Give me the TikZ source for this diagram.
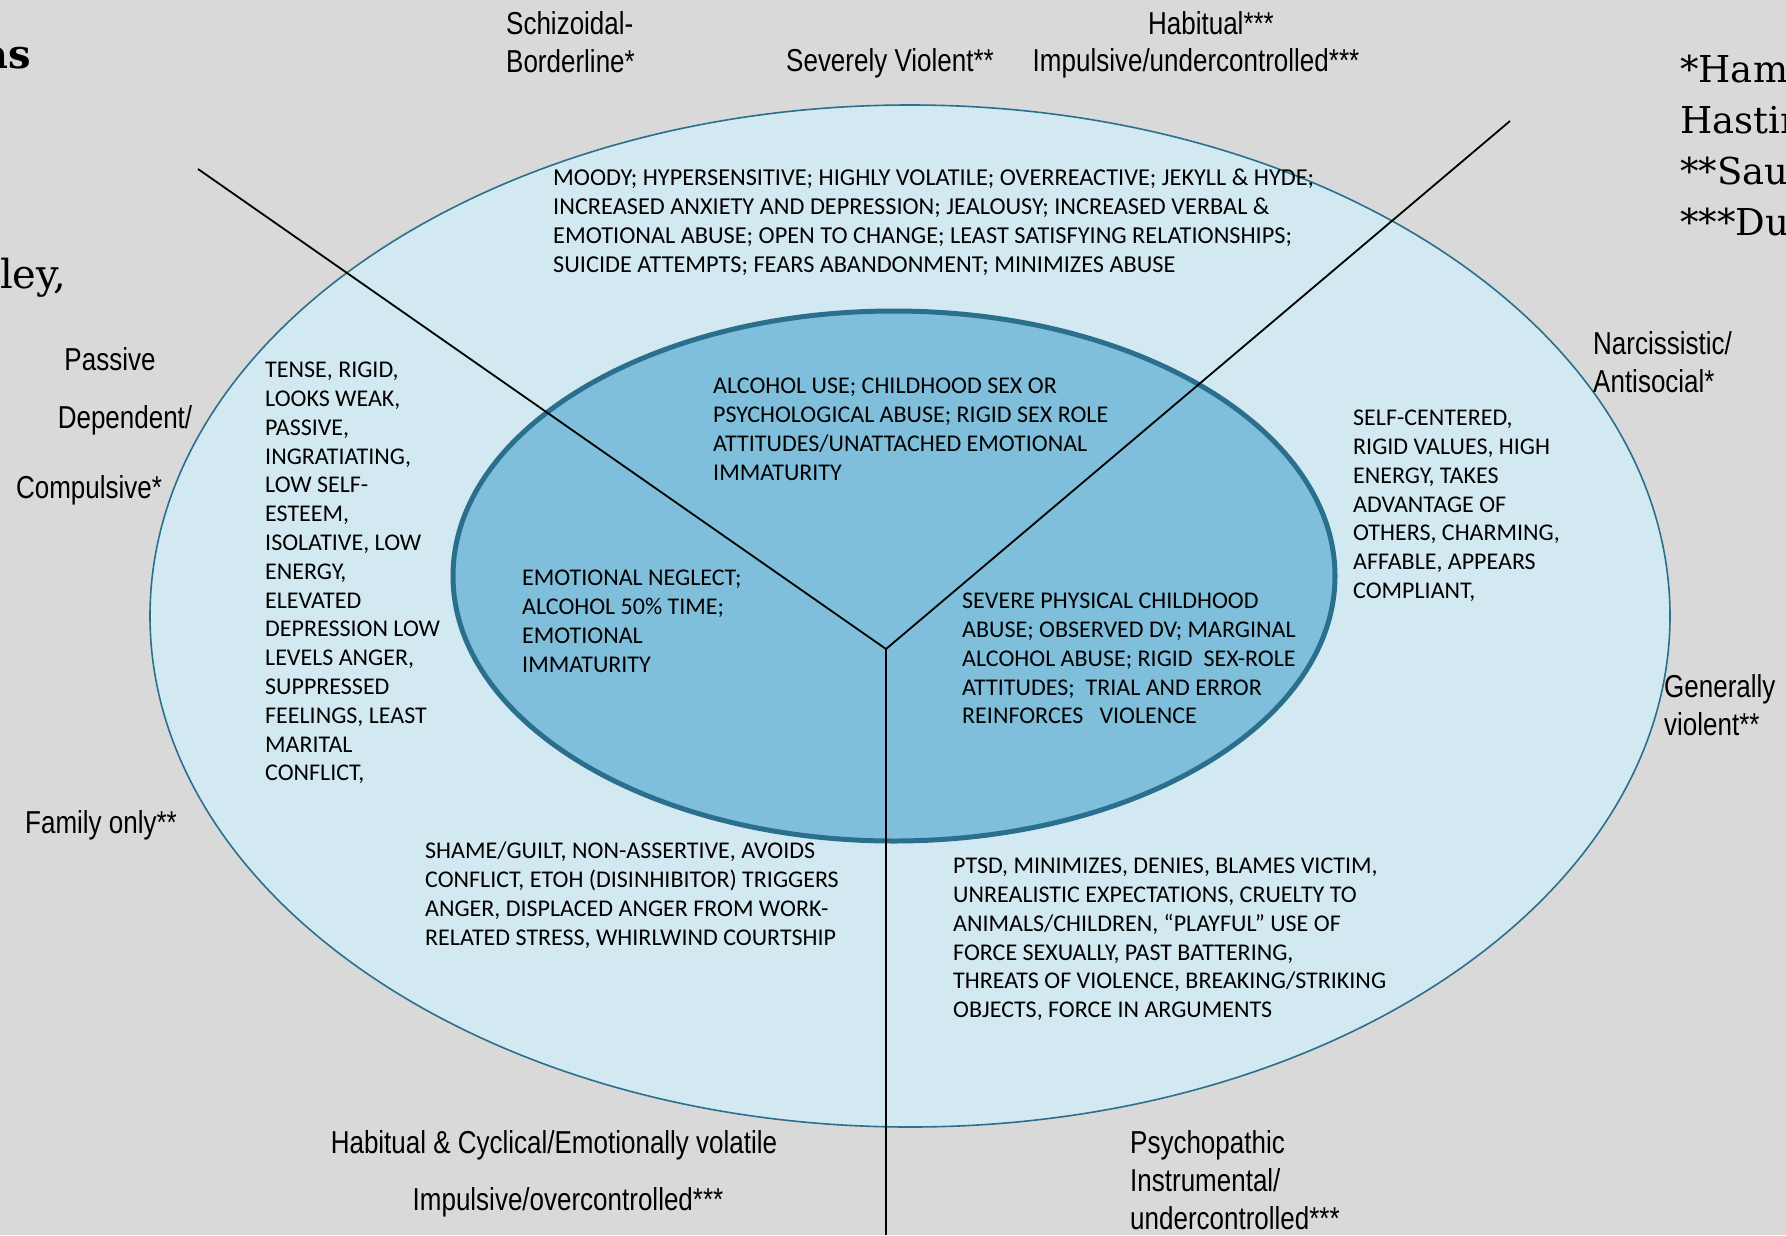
\documentclass[tikz,border=0pt]{standalone}
\usepackage{fontspec}
\setmainfont{Carlito}
\newfontfamily\labelfont[FakeStretch=0.82]{Liberation Sans}
\newfontfamily\headfont{DejaVu Serif}
\definecolor{bgcol}{HTML}{D9D9D9}
\definecolor{outerfill}{HTML}{D3E9F2}
\definecolor{innerfill}{HTML}{7FBFDB}
\definecolor{rimcol}{HTML}{2B6F8E}
\begin{document}
\begin{tikzpicture}[x=1pt,y=-1pt,
  body/.style={font=\fontsize{24}{28.8}\selectfont, align=left, inner sep=0pt, anchor=north west},
  lab/.style={font=\labelfont\fontsize{31.7}{38}\selectfont, inner sep=0pt},
  divider/.style={draw=black, line width=1.8pt},
  head/.style={font=\headfont\fontsize{37}{51}\selectfont, inner sep=0pt, align=left}]
\useasboundingbox[fill=bgcol] (0,0) rectangle (1786,1235);

% rings
\draw[fill=outerfill, draw=rimcol, line width=1.6pt] (910,616) ellipse [x radius=760, y radius=511];
\draw[fill=innerfill, draw=rimcol, line width=5pt] (894,576) ellipse [x radius=441, y radius=265];

% dividers meeting at the hub
\coordinate (hub) at (886,649);
\coordinate (nw) at (198,169);
\coordinate (ne) at (1510,121);
\coordinate (s) at (886,1235);
\draw[divider] (nw) -- (hub) -- (ne);
\draw[divider] (hub) -- (s);

% outer ring descriptions
\node[body, font=\fontsize{24.3}{28.8}\selectfont] (moody) at (553,169) {MOODY; HYPERSENSITIVE; HIGHLY VOLATILE; OVERREACTIVE; JEKYLL \& HYDE;\\INCREASED ANXIETY AND DEPRESSION; JEALOUSY; INCREASED VERBAL \&\\EMOTIONAL ABUSE; OPEN TO CHANGE; LEAST SATISFYING RELATIONSHIPS;\\SUICIDE ATTEMPTS; FEARS ABANDONMENT; MINIMIZES ABUSE};
\node[body] (tense) at (265,362) {TENSE, RIGID,\\LOOKS WEAK,\\PASSIVE,\\INGRATIATING,\\LOW SELF-\\ESTEEM,\\ISOLATIVE, LOW\\ENERGY,\\ELEVATED\\DEPRESSION LOW\\LEVELS ANGER,\\SUPPRESSED\\FEELINGS, LEAST\\MARITAL\\CONFLICT,};
\node[body] (selfc) at (1353,410) {SELF-CENTERED,\\RIGID VALUES, HIGH\\ENERGY, TAKES\\ADVANTAGE OF\\OTHERS, CHARMING,\\AFFABLE, APPEARS\\COMPLIANT,};
\node[body] (shame) at (425,842) {SHAME/GUILT, NON-ASSERTIVE, AVOIDS\\CONFLICT, ETOH (DISINHIBITOR) TRIGGERS\\ANGER, DISPLACED ANGER FROM WORK-\\RELATED STRESS, WHIRLWIND COURTSHIP};
\node[body] (ptsd) at (953,858) {PTSD, MINIMIZES, DENIES, BLAMES VICTIM,\\UNREALISTIC EXPECTATIONS, CRUELTY TO\\ANIMALS/CHILDREN, “PLAYFUL” USE OF\\FORCE SEXUALLY, PAST BATTERING,\\THREATS OF VIOLENCE, BREAKING/STRIKING\\OBJECTS, FORCE IN ARGUMENTS};

% inner ring descriptions
\node[body] (alcohol) at (713,378) {ALCOHOL USE; CHILDHOOD SEX OR\\PSYCHOLOGICAL ABUSE; RIGID SEX ROLE\\ATTITUDES/UNATTACHED EMOTIONAL\\IMMATURITY};
\node[body] (neglect) at (522,570) {EMOTIONAL NEGLECT;\\ALCOHOL 50\% TIME;\\EMOTIONAL\\IMMATURITY};
\node[body] (severe) at (962,593) {SEVERE PHYSICAL CHILDHOOD\\ABUSE; OBSERVED DV; MARGINAL\\ALCOHOL ABUSE; RIGID\ \ SEX-ROLE\\ATTITUDES;\ \ TRIAL AND ERROR\\REINFORCES\ \ \ VIOLENCE};

% type labels
\node[lab, anchor=north west, align=left] (schiz) at (506,11) {Schizoidal-\\Borderline*};
\node[lab, anchor=north west] (sevv) at (786,48) {Severely Violent**};
\node[lab, anchor=north] (habit) at (1211,11) {Habitual***};
\node[lab, anchor=north] (impu) at (1196,48) {Impulsive/undercontrolled***};
\node[lab, anchor=north] (passive) at (110,347) {Passive};
\node[lab, anchor=north] (depend) at (125,405) {Dependent/};
\node[lab, anchor=north] (compul) at (89,475) {Compulsive*};
\node[lab, anchor=north west] (family) at (25,810) {Family only**};
\node[lab, anchor=north west, align=left] (narc) at (1593,331) {Narcissistic/\\Antisocial*};
\node[lab, anchor=north west, align=left] (genv) at (1664,674) {Generally\\violent**};
\node[lab, anchor=north] (cycl) at (554,1130) {Habitual \& Cyclical/Emotionally volatile};
\node[lab, anchor=north] (overc) at (568,1187) {Impulsive/overcontrolled***};
\node[lab, anchor=north west, align=left] (psych) at (1130,1130) {Psychopathic\\Instrumental/\\undercontrolled***};

% heading fragments at the page edges
\node[head, anchor=base east, font=\headfont\bfseries\fontsize{40}{48}\selectfont] (hdA) at (31,68) {as};
\node[head, anchor=base west, font=\headfont\fontsize{40}{48}\selectfont] (hdB) at (0,288) {ley,};
\node[head, anchor=north west] (refs) at (1680,55) {*Ham\\Hastin\\**Sau\\***Du};
\end{tikzpicture}
\end{document}
